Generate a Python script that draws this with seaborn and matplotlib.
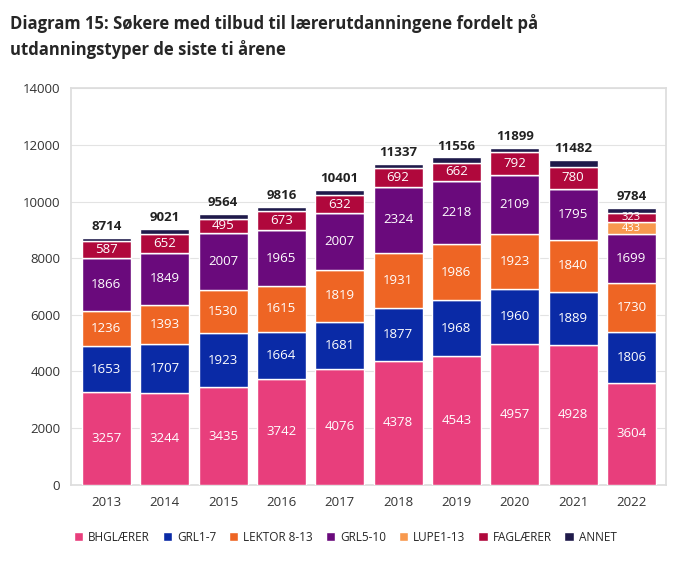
import matplotlib
matplotlib.use("Agg")
import matplotlib.pyplot as plt
import seaborn as sns
import pandas as pd
import numpy as np

years = ["2013","2014","2015","2016","2017","2018","2019","2020","2021","2022"]
series = ["BHGLÆRER","GRL1-7","LEKTOR 8-13","GRL5-10","LUPE1-13","FAGLÆRER","ANNET"]
bhg = [3257,3244,3435,3742,4076,4378,4543,4957,4928,3604]
grl17 = [1653,1707,1923,1664,1681,1877,1968,1960,1889,1806]
lektor = [1236,1393,1530,1615,1819,1931,1986,1923,1840,1730]
grl510 = [1866,1849,2007,1965,2007,2324,2218,2109,1795,1699]
lupe = [0,0,0,0,0,0,0,0,0,433]
fag = [587,652,495,673,632,692,662,792,780,323]
annet = [115,176,174,157,186,135,179,158,250,189]
totals = [8714,9021,9564,9816,10401,11337,11556,11899,11482,9784]
colors = ["#E83E7C","#0A2AA6","#EE6524","#6A0A7C","#F8994E","#B0083C","#1F1A4A"]

sns.set_theme(style="white")
plt.rcParams['font.family'] = ['Open Sans', 'DejaVu Sans']

df = pd.DataFrame({"year": years, **dict(zip(series, [bhg,grl17,lektor,grl510,lupe,fag,annet]))})

fig = plt.figure(figsize=(6.8,5.77), dpi=100)
ax = fig.add_axes([0.105,0.16,0.875,0.687])
bottom = np.zeros(len(years))
for s, c in zip(series, colors):
    vals = df[s].values
    bars = ax.bar(df["year"], vals, bottom=bottom, color=c, width=0.84, label=s, zorder=3)
    for b, v, bt in zip(bars, vals, bottom):
        if v >= 300:
            ax.text(b.get_x()+b.get_width()/2, bt+v/2, str(v), ha="center", va="center",
                    color="white", fontsize=9.5 if v >= 450 else 8, zorder=4)
    bottom += vals
for i, t in enumerate(totals):
    ax.text(i, t+170, str(t), ha="center", va="bottom", fontsize=9.5, fontweight="bold", color="#222")

ax.set_ylim(0,14000)
ax.set_xlim(-0.6,9.6)
ax.set_yticks(range(0,14001,2000))
ax.yaxis.grid(True, color="#e3e3e3", lw=0.8, zorder=0)
for sp in ax.spines.values():
    sp.set_color("#dddddd")
ax.tick_params(axis="both", labelsize=9.5, colors="#333", length=0, pad=8)
ax.legend(loc="upper center", bbox_to_anchor=(0.46,-0.09), ncol=7, frameon=False,
          fontsize=8.5, handlelength=0.8, handleheight=0.8, columnspacing=1.1, handletextpad=0.4)
fig.text(0.015,0.975,"Diagram 15: Søkere med tilbud til lærerutdanningene fordelt på",
         fontsize=12, fontweight="bold", va="top")
fig.text(0.015,0.93,"utdanningstyper de siste ti årene", fontsize=12, fontweight="bold", va="top")
fig.savefig("out.png", dpi=100)
